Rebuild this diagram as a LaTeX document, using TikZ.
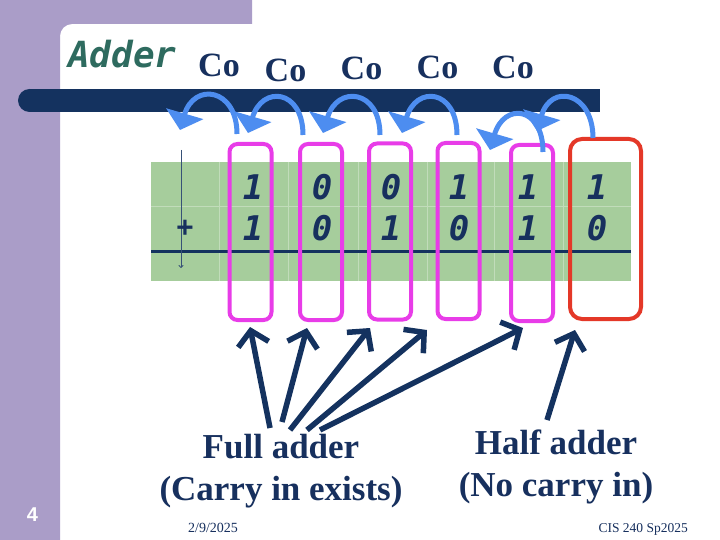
\documentclass[tikz,border=0pt]{standalone}
\usepackage{fontspec}
\setmainfont{Liberation Serif}
\newfontfamily\handfont{DejaVu Sans Mono Bold Oblique}
\newfontfamily\numfont{Liberation Sans}
\usepackage{tikz}
\usetikzlibrary{arrows.meta, calc, positioning}
\definecolor{slidepurple}{RGB}{170, 157, 200}
\definecolor{barnavy}{RGB}{20, 50, 95}
\definecolor{textnavy}{RGB}{23, 48, 94}
\definecolor{titleteal}{RGB}{46, 107, 95}
\definecolor{carryblue}{RGB}{77, 141, 240}
\definecolor{tablegreen}{RGB}{166, 205, 156}
\definecolor{boxmagenta}{RGB}{232, 60, 232}
\definecolor{boxred}{RGB}{228, 56, 40}

\begin{document}
\begin{tikzpicture}[x=1pt, y=-1pt]
\tikzstyle{fullbox} = [rectangle, rounded corners=8pt, draw=boxmagenta, line width=4pt, minimum width=42pt, minimum height=176pt, inner sep=0pt, outer sep=0pt]
\tikzstyle{halfbox} = [fullbox, draw=boxred, rounded corners=12pt, minimum width=71pt, minimum height=180pt]
\tikzstyle{digit} = [text=textnavy, font=\handfont\fontsize{34}{34}\selectfont, inner sep=0pt]
\tikzstyle{carry} = [line width=5pt, draw=carryblue, -{Triangle[width=38pt 0 0,length=17pt 0 0]}]
\tikzstyle{pointer} = [line width=5.5pt, draw=barnavy, -{Straight Barb[length=14pt 0 0,width=31pt 0 0]}]
\tikzstyle{colabel} = [text=textnavy, font=\bfseries\fontsize{34}{34}\selectfont, inner sep=0pt, anchor=base]
\tikzstyle{caption} = [text=textnavy, font=\bfseries\fontsize{35}{42}\selectfont, align=center, inner sep=0pt, anchor=north]
\tikzstyle{gridline} = [draw=tablegreen!70!white, line width=0.6pt]

% slide background
\useasboundingbox (0,0) rectangle (720,540);
\fill[white] (0,0) rectangle (720,540);
\fill[slidepurple] (0,540) -- (0,0) -- (252,0) -- (252,24) -- (72,24)
  .. controls (65.4,24) and (60,29.4) .. (60,36) -- (60,540) -- cycle;
\fill[barnavy] (29.5,89) rectangle (600,112);
\fill[barnavy] (29.5,100.5) circle (11.5pt);

\node[anchor=base west, text=titleteal, font=\handfont\fontsize{36}{36}\selectfont, inner sep=0pt] (title) at (68,68) {Adder};

% carry out labels
\node[colabel] (co1) at (219,77) {Co};
\node[colabel] (co2) at (285.5,82) {Co};
\node[colabel] (co3) at (361.5,80) {Co};
\node[colabel] (co4) at (437.5,79) {Co};
\node[colabel] (co5) at (513,79) {Co};

% the sum table
\fill[tablegreen] (151,162) rectangle (631,281);
\foreach \x in {219,288,358,427,494,563}
  \draw[gridline] (\x,162) -- (\x,281);
\draw[gridline] (151,206) -- (631,206);
\draw[barnavy, line width=3pt] (151,251) -- (631,251);
\draw[barnavy!85, line width=0.8pt, -{To[length=3pt,width=5pt]}] (181,150) -- (181,268);

\node[digit, font=\handfont\fontsize{28}{28}\selectfont] (plus) at (185,228) {+};
\node[digit] (a1) at (253,187) {1};
\node[digit] (a2) at (322,187) {0};
\node[digit] (a3) at (391,187) {0};
\node[digit] (a4) at (459,187) {1};
\node[digit] (a5) at (528,187) {1};
\node[digit] (a6) at (597,187) {1};
\node[digit] (b1) at (253,228) {1};
\node[digit] (b2) at (322,228) {0};
\node[digit] (b3) at (391,228) {1};
\node[digit] (b4) at (459,228) {0};
\node[digit] (b5) at (528,228) {1};
\node[digit] (b6) at (597,228) {0};

% adder boxes
\node[fullbox] (fa1) at (250.5,232) {};
\node[fullbox] (fa2) at (321,232) {};
\node[fullbox] (fa3) at (390,231.5) {};
\node[fullbox] (fa4) at (458.5,231) {};
\node[fullbox] (fa5) at (532,233) {};
\node[halfbox] (ha) at (605.5,229) {};

% carries
\coordinate (cout) at (180,130);
\draw[carry] ($(fa1.north)+(-13.5,-10)$) .. controls +(0,-46) and +(14,-48) .. (cout);
\draw[carry] ($(fa2.north)+(-18,-9)$) .. controls +(0,-46) and +(14,-48) .. ($(fa1.north)+(-2.5,-11)$);
\draw[carry] ($(fa3.north)+(-10,-8.5)$) .. controls +(0,-46) and +(14,-48) .. ($(fa2.north)+(2,-11)$);
\draw[carry] ($(fa4.north)+(-1.5,-8)$) .. controls +(0,-46) and +(14,-48) .. ($(fa3.north)+(12,-10.5)$);
\draw[carry] ($(fa5.north)+(11,7)$) .. controls +(0,-46) and +(14,-48) .. ($(fa4.north)+(31.5,7)$);
\draw[carry] ($(ha.north)+(-12.5,-1)$) .. controls +(0,-46) and +(14,-48) .. ($(fa5.north)+(5,-14)$);

% captions
\node[caption] (full) at (281,434.5) {Full adder\\(Carry in exists)};
\node[caption] (half) at (556,429.5) {Half adder\\(No carry in)};

\draw[pointer] ($(full.north)+(-11,-6.5)$) -- ($(fa1.south)+(-0.5,7)$);
\draw[pointer] ($(full.north)+(1,-12.5)$) -- ($(fa2.south)+(-14,8)$);
\draw[pointer] ($(full.north)+(9,-4.5)$) -- ($(fa3.south)+(-20,8.5)$);
\draw[pointer] ($(full.north)+(26,-4.5)$) -- ($(fa4.south)+(-31.5,11)$);
\draw[pointer] ($(full.north)+(39,-4.5)$) -- ($(fa5.south)+(-9,7)$);
\draw[pointer] ($(half.north)+(-9,-9.5)$) -- ($(ha.south)+(-30.5,11)$);

% footer
\node[font=\numfont\bfseries\fontsize{20}{20}\selectfont, text=white, inner sep=0pt] (page) at (32.5,514.5) {4};
\node[font=\fontsize{14}{14}\selectfont, text=textnavy, anchor=base, inner sep=0pt] (date) at (213,532) {2/9/2025};
\node[font=\fontsize{13.5}{13.5}\selectfont, text=textnavy, anchor=base east, inner sep=0pt] (course) at (688,532) {CIS 240 Sp2025};
\end{tikzpicture}
\end{document}
